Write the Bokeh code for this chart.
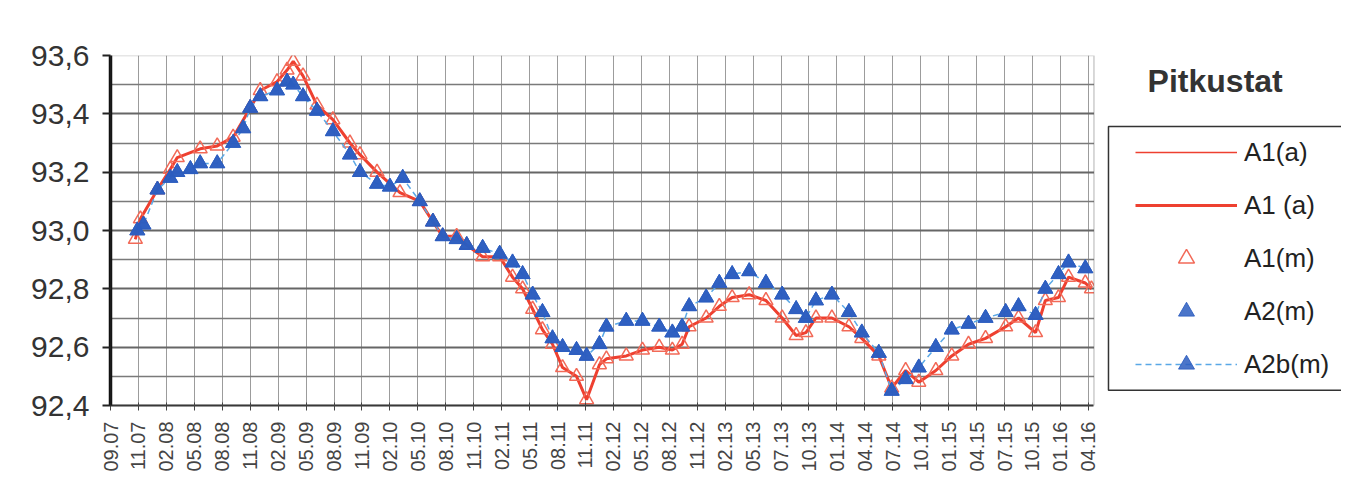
from bokeh.plotting import figure
from bokeh.models import (ColumnDataSource, FixedTicker, Range1d, Legend, LegendItem,
                          Label, CustomJSTickFormatter, BoxAnnotation)
from bokeh.embed import file_html
from bokeh.resources import INLINE
import math

x_labels = ["09.07", "11.07", "02.08", "05.08", "08.08", "11.08", "02.09", "05.09", "08.09", "11.09",
            "02.10", "05.10", "08.10", "11.10", "02.11", "05.11", "08.11", "11.11", "02.12", "05.12",
            "08.12", "11.12", "02.13", "05.13", "07.13", "10.13", "01.14", "04.14", "07.14", "10.14",
            "01.15", "04.15", "07.15", "10.15", "01.16", "04.16"]
y_ticks = [92.4, 92.6, 92.8, 93.0, 93.2, 93.4, 93.6]
y_minor = [92.5, 92.7, 92.9, 93.1, 93.3, 93.5]

# A1 series (red): position along the category axis, level
a1_x = [0.89, 1.07, 1.68, 2.14, 2.39, 3.21, 3.82, 4.39, 5.00, 5.36,
        5.96, 6.32, 6.54, 6.89, 7.39, 7.96, 8.57, 8.93, 9.54, 10.36,
        11.07, 11.54, 11.89, 12.39, 12.75, 13.32, 13.93, 14.39, 14.75, 15.11,
        15.46, 15.82, 16.18, 16.68, 17.04, 17.50, 17.75, 18.46, 19.04, 19.64,
        20.11, 20.46, 20.71, 21.32, 21.79, 22.25, 22.86, 23.46, 24.04, 24.54,
        24.89, 25.25, 25.82, 26.43, 26.89, 27.50, 27.96, 28.46, 28.93, 29.54,
        30.11, 30.71, 31.32, 32.04, 32.50, 33.11, 33.46, 33.93, 34.29, 34.89, 35.11]
a1_y = [92.97, 93.04, 93.14, 93.21, 93.25, 93.28, 93.29, 93.32, 93.42, 93.48,
        93.51, 93.55, 93.58, 93.53, 93.43, 93.38, 93.30, 93.26, 93.20, 93.13,
        93.10, 93.03, 92.98, 92.98, 92.95, 92.91, 92.91, 92.84, 92.80, 92.73,
        92.66, 92.61, 92.53, 92.50, 92.42, 92.54, 92.56, 92.57, 92.59, 92.60,
        92.59, 92.61, 92.67, 92.70, 92.74, 92.77, 92.78, 92.76, 92.70, 92.64,
        92.65, 92.70, 92.70, 92.67, 92.63, 92.57, 92.46, 92.52, 92.48, 92.52,
        92.57, 92.61, 92.63, 92.67, 92.70, 92.65, 92.76, 92.77, 92.84, 92.82, 92.80]

# A2 series (blue)
a2_x = [0.96, 1.18, 1.68, 2.14, 2.39, 2.86, 3.21, 3.82, 4.39, 4.75,
        5.00, 5.36, 5.96, 6.32, 6.54, 6.89, 7.39, 7.96, 8.57, 8.93,
        9.54, 10.00, 10.46, 11.07, 11.54, 11.89, 12.39, 12.75, 13.32, 13.93,
        14.39, 14.75, 15.11, 15.46, 15.82, 16.18, 16.68, 17.04, 17.50, 17.75,
        18.46, 19.04, 19.64, 20.11, 20.46, 20.71, 21.32, 21.79, 22.25, 22.86,
        23.46, 24.04, 24.54, 24.89, 25.25, 25.82, 26.43, 26.89, 27.50, 27.96,
        28.46, 28.93, 29.54, 30.11, 30.71, 31.32, 32.04, 32.50, 33.11, 33.46,
        33.93, 34.29, 34.89]
a2_y = [93.00, 93.02, 93.14, 93.18, 93.20, 93.21, 93.23, 93.23, 93.30, 93.35,
        93.42, 93.46, 93.48, 93.51, 93.50, 93.46, 93.41, 93.34, 93.26, 93.20,
        93.16, 93.15, 93.18, 93.10, 93.03, 92.98, 92.97, 92.95, 92.94, 92.92,
        92.89, 92.85, 92.78, 92.72, 92.63, 92.60, 92.59, 92.57, 92.61, 92.67,
        92.69, 92.69, 92.67, 92.65, 92.67, 92.74, 92.77, 92.82, 92.85, 92.86,
        92.82, 92.78, 92.73, 92.70, 92.76, 92.78, 92.72, 92.65, 92.58, 92.45,
        92.49, 92.53, 92.60, 92.66, 92.68, 92.70, 92.72, 92.74, 92.71, 92.80,
        92.85, 92.89, 92.87]

FONT = "Liberation Sans"
RED = "#ee4030"
BLUE = "#2b5dbf"

X_END = 35.2      # right edge of the plotting area
Y0, Y1 = 92.4, 93.6

src1 = ColumnDataSource(dict(x=a1_x, y=a1_y))
src2 = ColumnDataSource(dict(x=a2_x, y=a2_y))

p = figure(width=1341, height=488, output_backend="svg", toolbar_location=None,
           x_range=Range1d(0, 44.06), y_range=Range1d(Y0, Y1),
           min_border_left=110, min_border_right=0, min_border_top=55, min_border_bottom=83,
           background_fill_color="white", border_fill_color="white")
p.outline_line_color = None

r_line1 = p.line("x", "y", source=src1, line_color=RED, line_width=1.5)
r_line2 = p.line("x", "y", source=src1, line_color=RED, line_width=3)
r_m1 = p.scatter("x", "y", source=src1, marker="triangle", size=14, fill_color=None,
                 line_color="#f26a58", line_width=1.5)
r_dash = p.line("x", "y", source=src2, line_color="#5aa8e6", line_width=1.5, line_dash="6 4")
r_m2b = p.scatter("x", "y", source=src2, marker="triangle", size=15, fill_color=BLUE,
                  line_color=BLUE, fill_alpha=0.85, line_alpha=0.85)
r_m2 = p.scatter("x", "y", source=src2, marker="triangle", size=15, fill_color=BLUE,
                 line_color=BLUE, fill_alpha=0.85, line_alpha=0.85)

# axes
p.xaxis.bounds = (0, X_END)
p.xaxis.ticker = FixedTicker(ticks=list(range(len(x_labels))))
p.xaxis.major_label_overrides = {i: lab for i, lab in enumerate(x_labels)}
p.xaxis.major_label_orientation = math.pi / 2
p.xaxis.major_label_text_font = FONT
p.xaxis.major_label_text_font_size = "20px"
p.xaxis.major_label_text_color = "#444444"
p.xaxis.major_label_standoff = 11
p.xaxis.axis_line_color = "#333333"
p.xaxis.axis_line_width = 2
p.xaxis.major_tick_out = 5
p.xaxis.major_tick_in = 3
p.xaxis.major_tick_line_color = "#444444"
p.xaxis.minor_tick_line_color = None

p.yaxis.ticker = FixedTicker(ticks=y_ticks, minor_ticks=y_minor)
p.yaxis.formatter = CustomJSTickFormatter(code="return tick.toFixed(1).replace('.', ',');")
p.yaxis.major_label_text_font = FONT
p.yaxis.major_label_text_font_size = "30px"
p.yaxis.major_label_text_color = "#333333"
p.yaxis.major_label_standoff = 13
p.yaxis.axis_line_color = "#111111"
p.yaxis.axis_line_width = 3.5
p.yaxis.major_tick_out = 8
p.yaxis.major_tick_in = 0
p.yaxis.major_tick_line_width = 2
p.yaxis.major_tick_line_color = "#222222"
p.yaxis.minor_tick_line_color = None

p.xgrid.grid_line_color = "#9c9c9c"
p.xgrid.grid_line_width = 1
p.ygrid.grid_line_color = "#666666"
p.ygrid.grid_line_width = 1.8
p.ygrid.minor_grid_line_color = "#7a7a7a"
p.ygrid.minor_grid_line_width = 1.3

# blank area right of the plotting area (legend side)
cover = BoxAnnotation(left=X_END, right=50, bottom=Y0, top=Y1, fill_color="white", fill_alpha=1.0,
                      line_alpha=0)
p.add_layout(cover)
frame_border = BoxAnnotation(left=0, right=X_END, bottom=Y0, top=Y1, fill_alpha=0,
                             line_color="#555555", line_width=1.5)
p.add_layout(frame_border)

# legend title and legend frame (open to the right, running off the picture)
title = Label(x=37.12, y=93.514, text="Pitkustat",
              text_font=FONT, text_font_size="32px", text_font_style="bold",
              text_color="#333333", text_baseline="alphabetic")
p.add_layout(title)

box_l, box_r, box_t, box_b = 35.72, 60.0, 93.357, 92.452
p.line([box_r, box_l, box_l, box_r], [box_t, box_t, box_b, box_b],
       line_color="#333333", line_width=1.5, level="overlay")

legend = Legend(items=[
    LegendItem(label="A1(a)", renderers=[r_line1]),
    LegendItem(label="A1 (a)", renderers=[r_line2]),
    LegendItem(label="A1(m)", renderers=[r_m1]),
    LegendItem(label="A2(m)", renderers=[r_m2]),
    LegendItem(label="A2b(m)", renderers=[r_dash, r_m2b]),
], location=(1019, 15))
legend.padding = 6
legend.margin = 0
legend.spacing = 13
legend.glyph_width = 102
legend.glyph_height = 40
legend.label_standoff = 7
legend.label_text_font = FONT
legend.label_text_font_size = "26px"
legend.label_text_color = "#222222"
legend.border_line_alpha = 0
legend.background_fill_alpha = 0
p.add_layout(legend)

open("out.html", "w").write(file_html(p, INLINE))
